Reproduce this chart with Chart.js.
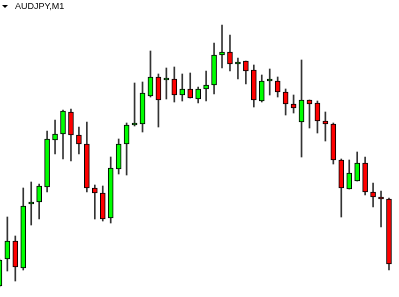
<!DOCTYPE html>
<html>
<head>
<meta charset="utf-8">
<script src="https://cdn.jsdelivr.net/npm/chart.js@4/dist/chart.umd.min.js"></script>
<style>
  html, body { margin: 0; padding: 0; background: #ffffff; }
  #wrap { position: relative; width: 399px; height: 297px; overflow: hidden; }
  #c { position: absolute; left: 0; top: 0; }
  #tri { position: absolute; left: 2px; top: 5px; width: 0; height: 0;
         border-left: 3px solid transparent; border-right: 3px solid transparent;
         border-top: 3px solid #000; }
  #ttl { position: absolute; left: 15px; top: 1px; font: 9px "Liberation Sans", Arial, sans-serif;
         line-height: 10px; color: #000; white-space: nowrap; }
</style>
</head>
<body>
<div id="wrap">
  <canvas id="c" width="399" height="297"></canvas>
  <div id="tri"></div>
  <div id="ttl">AUDJPY,M1</div>
</div>
<script>
// Bar index (one-minute candles, oldest first)
const barIndex = [0,1,2,3,4,5,6,7,8,9,10,11,12,13,14,15,16,17,18,19,20,21,22,23,24,
                  25,26,27,28,29,30,31,32,33,34,35,36,37,38,39,40,41,42,43,44,45,46,47,48,49];
// Prices
const opens  = [97.011,97.038,97.056,97.029,97.093,97.095,97.110,97.157,97.163,97.185,
                97.162,97.153,97.109,97.104,97.079,97.128,97.153,97.172,97.173,97.201,
                97.220,97.217,97.218,97.202,97.208,97.198,97.208,97.212,97.242,97.245,
                97.233,97.236,97.227,97.196,97.216,97.216,97.205,97.193,97.175,97.197,
                97.194,97.176,97.173,97.137,97.108,97.116,97.134,97.105,97.100,97.098];
const highs  = [97.038,97.080,97.061,97.109,97.115,97.113,97.166,97.177,97.187,97.188,
                97.170,97.175,97.112,97.111,97.140,97.158,97.174,97.214,97.215,97.246,
                97.223,97.229,97.230,97.223,97.224,97.210,97.226,97.254,97.272,97.262,
                97.239,97.236,97.232,97.222,97.228,97.220,97.208,97.202,97.237,97.197,
                97.196,97.185,97.174,97.138,97.137,97.145,97.140,97.114,97.106,97.099];
const lows   = [97.010,97.026,97.016,97.027,97.072,97.078,97.105,97.143,97.138,97.136,
                97.143,97.105,97.078,97.076,97.074,97.123,97.122,97.171,97.165,97.200,
                97.170,97.198,97.195,97.196,97.199,97.194,97.196,97.203,97.229,97.226,
                97.218,97.213,97.190,97.195,97.202,97.200,97.182,97.184,97.140,97.169,
                97.164,97.156,97.133,97.080,97.108,97.116,97.102,97.090,97.070,97.027];
const closes = [97.037,97.056,97.030,97.091,97.095,97.111,97.158,97.163,97.186,97.162,
                97.153,97.109,97.104,97.078,97.129,97.153,97.172,97.172,97.204,97.220,
                97.197,97.217,97.202,97.208,97.199,97.208,97.212,97.242,97.245,97.233,
                97.235,97.226,97.197,97.216,97.216,97.205,97.193,97.189,97.197,97.193,
                97.176,97.173,97.137,97.109,97.124,97.134,97.105,97.100,97.098,97.033];

const UP = '#00ff00', DOWN = '#ff0000';

const bodyData = barIndex.map((x, i) => ({ x: x, y: [opens[i], closes[i]] }));
const wickData = barIndex.map((x, i) => ({ x: x, y: [lows[i], highs[i]] }));
const bodyColors = barIndex.map((x, i) => closes[i] >= opens[i] ? UP : DOWN);

new Chart(document.getElementById('c'), {
  type: 'bar',
  data: {
    datasets: [
      {
        label: 'wick',
        data: wickData,
        backgroundColor: '#333333',
        borderWidth: 0,
        barThickness: 1,
        grouped: false,
        order: 2
      },
      {
        label: 'body',
        data: bodyData,
        backgroundColor: bodyColors,
        borderColor: '#000000',
        borderWidth: 1,
        borderSkipped: false,
        barThickness: 5,
        minBarLength: 2,
        grouped: false,
        order: 1
      }
    ]
  },
  options: {
    responsive: false,
    animation: false,
    devicePixelRatio: 1,
    layout: { padding: 0 },
    plugins: { legend: { display: false }, tooltip: { enabled: false }, title: { display: false } },
    scales: {
      x: { type: 'linear', min: 0.075, max: 50.26, display: false, offset: false },
      y: { type: 'linear', min: 97.000, max: 97.297, display: false }
    }
  }
});
</script>
</body>
</html>
